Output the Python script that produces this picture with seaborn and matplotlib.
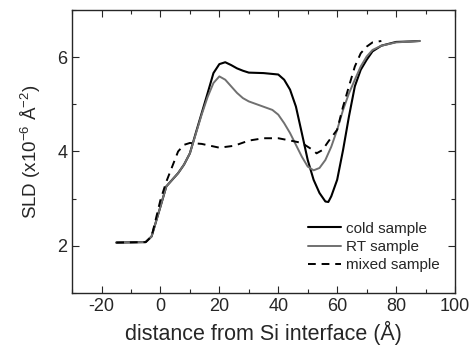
import matplotlib
matplotlib.use('Agg')
import matplotlib.pyplot as plt
import seaborn as sns
from matplotlib.ticker import MultipleLocator

# cold sample (black solid)
x_cold = [-15, -5, -3, 0, 2, 4, 6, 8, 10, 12, 14, 16, 18, 20, 22, 24, 26, 28, 30, 35, 40,
          42, 44, 46, 48, 50, 52, 54, 56, 57, 58, 60, 62, 64, 66, 68, 70, 72, 75, 80, 85, 88]
y_cold = [2.07, 2.08, 2.2, 2.83, 3.26, 3.4, 3.54, 3.72, 3.96, 4.39, 4.81, 5.23, 5.66, 5.85, 5.89,
          5.83, 5.76, 5.71, 5.67, 5.66, 5.63, 5.52, 5.31, 4.95, 4.39, 3.82, 3.40, 3.12, 2.94, 2.93,
          3.05, 3.40, 4.03, 4.74, 5.38, 5.73, 5.94, 6.12, 6.24, 6.32, 6.33, 6.34]

# RT sample (grey solid)
x_rt = [-15, -5, -3, 0, 2, 4, 6, 8, 10, 12, 14, 16, 18, 20, 22, 24, 26, 28, 30, 34, 38, 40,
        42, 44, 46, 48, 50, 52, 54, 56, 58, 60, 62, 64, 66, 68, 70, 72, 75, 80, 88]
y_rt = [2.07, 2.08, 2.2, 2.83, 3.26, 3.4, 3.54, 3.72, 3.96, 4.37, 4.78, 5.15, 5.45, 5.59, 5.52,
        5.38, 5.24, 5.13, 5.06, 4.97, 4.88, 4.78, 4.60, 4.39, 4.14, 3.89, 3.68, 3.60, 3.65, 3.82,
        4.10, 4.46, 4.88, 5.23, 5.52, 5.80, 6.01, 6.15, 6.24, 6.31, 6.34]

# mixed sample (dashed)
x_mix = [-15, -5, -3, 0, 2, 4, 6, 8, 10, 14, 20, 25, 30, 35, 40, 45, 48, 50, 52, 53, 55, 57,
         60, 62, 64, 66, 68, 70, 72, 75]
y_mix = [2.07, 2.08, 2.2, 2.97, 3.36, 3.68, 4.0, 4.14, 4.18, 4.16, 4.08, 4.12, 4.23, 4.28, 4.28,
         4.22, 4.18, 4.10, 4.02, 3.96, 4.03, 4.21, 4.46, 4.95, 5.38, 5.80, 6.08, 6.22, 6.31, 6.34]

sns.set_style("ticks")
plt.rcParams['font.family'] = ['Liberation Sans', 'DejaVu Sans']
plt.rcParams['axes.unicode_minus'] = False
plt.rcParams['mathtext.fontset'] = 'custom'
plt.rcParams['mathtext.rm'] = 'Liberation Sans'
plt.rcParams['mathtext.it'] = 'Liberation Sans'

fig, ax = plt.subplots(figsize=(4.71, 3.51), dpi=100)
fig.subplots_adjust(left=0.153, right=0.966, top=0.972, bottom=0.165)

sns.lineplot(x=x_cold, y=y_cold, ax=ax, color='black', lw=1.5, label='cold sample')
sns.lineplot(x=x_rt, y=y_rt, ax=ax, color='#707070', lw=1.4, label='RT sample')
sns.lineplot(x=x_mix, y=y_mix, ax=ax, color='black', lw=1.4, ls=(0, (4, 3)), label='mixed sample')

ax.set_xlim(-30, 100)
ax.set_ylim(1, 7)
ax.xaxis.set_major_locator(MultipleLocator(20))
ax.xaxis.set_minor_locator(MultipleLocator(10))
ax.yaxis.set_major_locator(MultipleLocator(2))
ax.yaxis.set_minor_locator(MultipleLocator(1))
ax.tick_params(which='both', direction='in', top=True, right=True, labelsize=13, width=0.8)
ax.tick_params(which='major', length=5)
ax.tick_params(which='minor', length=3)
for s in ax.spines.values():
    s.set_linewidth(1.0)

ax.set_xlabel('distance from Si interface (Å)', fontsize=15.5)
ax.set_ylabel(r'SLD (x10$^{\mathrm{-6}}$ Å$^{\mathrm{-2}}$)', fontsize=13.5, labelpad=10)

ax.legend(loc='lower right', frameon=False, fontsize=11, handlelength=2.15,
          handletextpad=0.33, labelspacing=0.28, bbox_to_anchor=(0.995, 0.025))

plt.savefig('out.png', dpi=100)
plt.close()
